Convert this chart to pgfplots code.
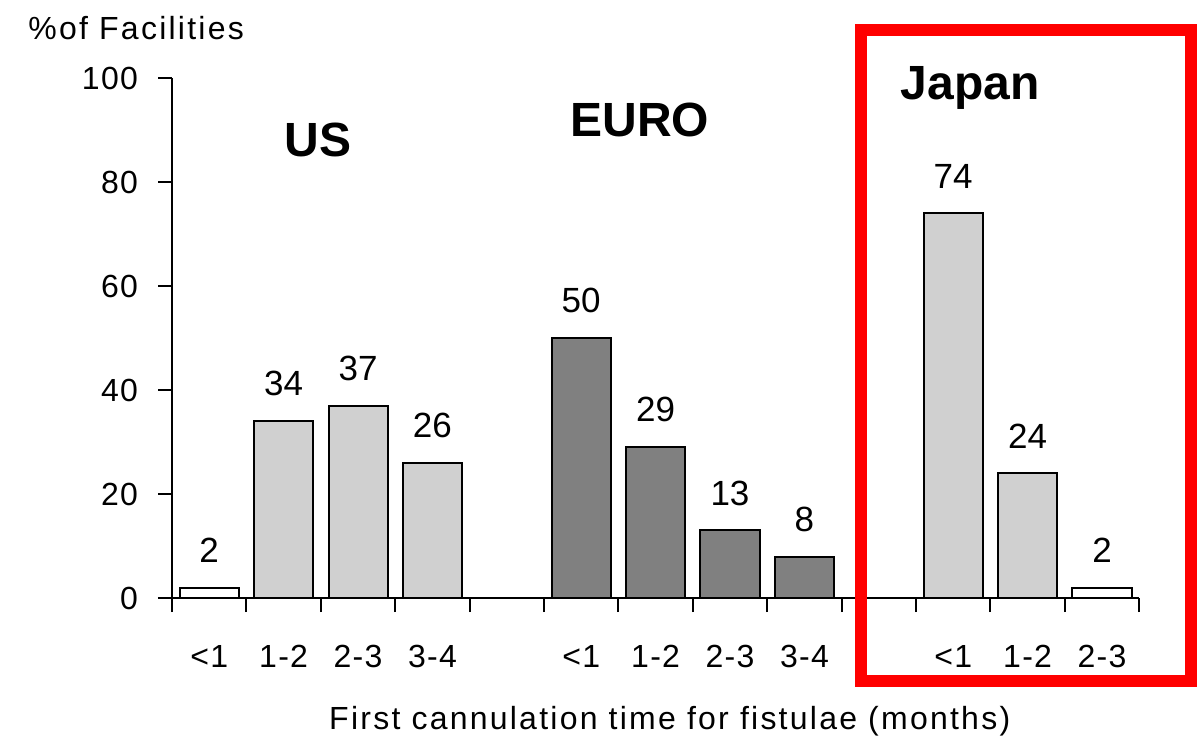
\documentclass[border=0pt]{standalone}
\usepackage{fontspec}
\setmainfont{Liberation Sans}
\newfontfamily\wsf[LetterSpace=7]{Liberation Sans}
\newfontfamily\tsf[LetterSpace=4]{Liberation Sans}
\usepackage{pgfplots}
\pgfplotsset{compat=1.18}
\definecolor{lg}{RGB}{208,208,208}
\definecolor{dg}{RGB}{128,128,128}
\begin{document}
\begin{tikzpicture}
\begin{axis}[
  scale only axis, width=483.5pt, height=260pt,
  xmin=-0.5, xmax=12.5, ymin=0, ymax=100,
  axis lines=left, axis line style={-, line width=1pt},
  clip=false,
  /pgf/number format/assume math mode=true,
  ytick={0,20,...,100},
  xtick={-0.5,0.5,...,12.5},
  xticklabels={<1,1-2,2-3,3-4,{},<1,1-2,2-3,3-4,{},<1,1-2,2-3,{}},
  tick align=outside,
  major tick length=7pt,
  tick style={line width=1pt, black},
  tick label style={font=\fontsize{16}{19}\tsf},
  xticklabel style={xshift=18.6pt, yshift=-13pt},
  yticklabel style={xshift=-6.5pt},
  nodes near coords,
  every node near coord/.append style={font=\fontsize{17.5}{20}\selectfont, anchor=south, inner sep=0pt, yshift=12pt},
]
\addplot[ybar, bar width=29.5pt, bar shift=0pt, fill=white, draw=black, line width=1pt] coordinates {(0,2) (12,2)};
\addplot[ybar, bar width=29.5pt, bar shift=0pt, fill=lg, draw=black, line width=1pt] coordinates {(1,34) (2,37) (3,26) (10,74) (11,24)};
\addplot[ybar, bar width=29.5pt, bar shift=0pt, fill=dg, draw=black, line width=1pt] coordinates {(5,50) (6,29) (7,13) (8,8)};

\draw[line width=1pt] (axis cs:-0.69,0) -- (axis cs:-0.5,0);
\node[font=\fontsize{24}{28}\selectfont\bfseries] at (axis cs:1.46,88.1) {US};
\node[font=\fontsize{24}{28}\selectfont\bfseries] at (axis cs:5.79,91.9) {EURO};
\node[font=\fontsize{24}{28}\selectfont\bfseries] at (axis cs:10.23,98.1) {Japan};
\node[anchor=west, inner sep=0pt, font=\fontsize{16}{19}\wsf] at (axis cs:-2.435,109.6) {\%of Facilities};
\node[font=\fontsize{16}{19}\wsf] at (axis cs:6.19,-23.6) {First cannulation time for fistulae (months)};
\draw[red, line width=6pt] (axis cs:8.76,-15.96) rectangle (axis cs:13.196,109.2);
\coordinate (bl) at (axis cs:-2.812,-28.85);
\coordinate (tr) at (axis cs:13.277,115);
\end{axis}
\pgfresetboundingbox
\path[use as bounding box] (bl) rectangle (tr);
\end{tikzpicture}
\end{document}
